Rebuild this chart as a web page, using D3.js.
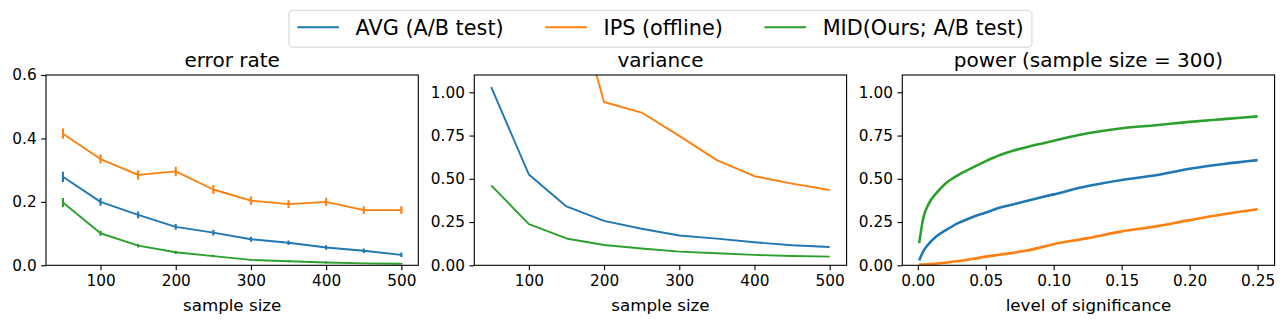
<!DOCTYPE html>
<html lang="en">
  <head>
    <meta charset="utf-8">
    <title>error rate / variance / power</title>
    <script src="https://d3js.org/d3.v7.min.js"></script>
    <style>
      body { margin: 0; background: #fff; }
      text { font-family: "DejaVu Sans", sans-serif; fill: #000; }
    </style>
  </head>

  <body>
    <div id="chart"></div>
    <script>
      // series names + colours (matplotlib tab10)
      var seriesNames = ["AVG (A/B test)", "IPS (offline)", "MID(Ours; A/B test)"];
      var seriesColors = ["#1f77b4", "#ff7f0e", "#2ca02c"];

      // panel 1: error rate vs sample size (with error bars)
      var sampleSizes = [50, 100, 150, 200, 250, 300, 350, 400, 450, 500];
      var errAvg = [0.279, 0.200, 0.159, 0.121, 0.103, 0.082, 0.071, 0.056, 0.046, 0.033];
      var errIps = [0.415, 0.335, 0.285, 0.296, 0.239, 0.204, 0.193, 0.200, 0.174, 0.174];
      var errMid = [0.198, 0.101, 0.062, 0.041, 0.029, 0.017, 0.013, 0.009, 0.006, 0.005];
      var errAvgBar = [0.016, 0.012, 0.011, 0.009, 0.009, 0.008, 0.007, 0.007, 0.007, 0.007];
      var errIpsBar = [0.016, 0.014, 0.015, 0.015, 0.014, 0.013, 0.012, 0.013, 0.012, 0.012];
      var errMidBar = [0.014, 0.008, 0.006, 0.005, 0.004, 0.003, 0.003, 0.003, 0.002, 0.002];

      // panel 2: variance vs sample size (IPS goes off the top for small n)
      var varAvg = [1.030, 0.525, 0.340, 0.257, 0.211, 0.172, 0.154, 0.133, 0.116, 0.106];
      var varIps = [5.60, 2.90, 1.72, 0.944, 0.883, 0.748, 0.608, 0.515, 0.472, 0.435];
      var varMid = [0.462, 0.238, 0.155, 0.117, 0.097, 0.079, 0.070, 0.060, 0.054, 0.050];

      // panel 3: power vs level of significance
      var alphas = [0.001, 0.004, 0.008, 0.014, 0.02, 0.03, 0.04, 0.05, 0.06, 0.07, 0.08,
                    0.10, 0.125, 0.15, 0.175, 0.2, 0.225, 0.25];
      var powAvg = [0.028, 0.080, 0.124, 0.170, 0.200, 0.245, 0.278, 0.305, 0.332, 0.352, 0.372,
                    0.410, 0.458, 0.493, 0.520, 0.558, 0.586, 0.608];
      var powIps = [0.004, 0.005, 0.007, 0.010, 0.015, 0.025, 0.036, 0.050, 0.061, 0.072, 0.085,
                    0.122, 0.157, 0.196, 0.225, 0.261, 0.295, 0.324];
      var powMid = [0.128, 0.272, 0.355, 0.420, 0.470, 0.523, 0.563, 0.602, 0.636, 0.662, 0.683,
                    0.720, 0.763, 0.792, 0.810, 0.829, 0.845, 0.861];

      var W = 1285, H = 326;
      var TOP = 75, BOTTOM = 265.3;
      var PW = 372.3;
      var TICK = 4.9;

      var svg = d3.select("#chart").append("svg")
        .attr("width", W)
        .attr("height", H);

      var panels = [
        {
          left: 46, title: "error rate", xlabel: "sample size",
          xDomain: [27.5, 522.5], yDomain: [0, 0.6],
          xTicks: [100, 200, 300, 400, 500], yTicks: [0, 0.2, 0.4, 0.6],
          xFmt: d3.format("d"), yFmt: d3.format(".1f"),
          x: sampleSizes, ys: [errAvg, errIps, errMid], bars: [errAvgBar, errIpsBar, errMidBar],
          lw: 1.9
        },
        {
          left: 474.3, title: "variance", xlabel: "sample size",
          xDomain: [27.5, 522.5], yDomain: [0, 1.1],
          xTicks: [100, 200, 300, 400, 500], yTicks: [0, 0.25, 0.5, 0.75, 1.0],
          xFmt: d3.format("d"), yFmt: d3.format(".2f"),
          x: sampleSizes, ys: [varAvg, varIps, varMid], bars: null,
          lw: 1.9
        },
        {
          left: 902.3, title: "power (sample size = 300)", xlabel: "level of significance",
          xDomain: [-0.0114, 0.2625], yDomain: [0, 1.1],
          xTicks: [0, 0.05, 0.1, 0.15, 0.2, 0.25], yTicks: [0, 0.25, 0.5, 0.75, 1.0],
          xFmt: d3.format(".2f"), yFmt: d3.format(".2f"),
          x: alphas, ys: [powAvg, powIps, powMid], bars: null,
          lw: 2.6
        }
      ];

      panels.forEach(function(p, pi) {
        var g = svg.append("g").attr("transform", `translate(${p.left},${TOP})`);
        var ih = BOTTOM - TOP;

        var xScale = d3.scaleLinear().domain(p.xDomain).range([0, PW]);
        var yScale = d3.scaleLinear().domain(p.yDomain).range([ih, 0]);

        g.append("clipPath").attr("id", "clip" + pi)
          .append("rect").attr("width", PW).attr("height", ih);

        var plot = g.append("g").attr("clip-path", `url(#clip${pi})`);

        var line = d3.line()
          .x(function(d, i) { return xScale(p.x[i]); })
          .y(function(d) { return yScale(d); })
          .curve(pi == 2 ? d3.curveMonotoneX : d3.curveLinear);

        p.ys.forEach(function(ys, si) {
          plot.append("path")
            .datum(ys)
            .attr("d", line)
            .attr("fill", "none")
            .attr("stroke", seriesColors[si])
            .attr("stroke-width", p.lw)
            .attr("stroke-linejoin", "round")
            .attr("stroke-linecap", "butt");

          if (p.bars) {
            plot.selectAll(null)
              .data(ys)
              .enter().append("line")
                .attr("x1", function(d, i) { return xScale(p.x[i]); })
                .attr("x2", function(d, i) { return xScale(p.x[i]); })
                .attr("y1", function(d, i) { return yScale(d - p.bars[si][i]); })
                .attr("y2", function(d, i) { return yScale(d + p.bars[si][i]); })
                .attr("stroke", seriesColors[si])
                .attr("stroke-width", 2.1);
          }
        });

        var xAxis = d3.axisBottom(xScale).tickValues(p.xTicks).tickFormat(p.xFmt)
          .tickSize(TICK).tickPadding(4.5);
        var yAxis = d3.axisLeft(yScale).tickValues(p.yTicks).tickFormat(p.yFmt)
          .tickSize(TICK).tickPadding(4.5);

        var gx = g.append("g").attr("transform", `translate(0,${ih})`).call(xAxis);
        var gy = g.append("g").call(yAxis);
        [gx, gy].forEach(function(a) {
          a.select(".domain").remove();
          a.selectAll(".tick line").attr("stroke", "#000").attr("stroke-width", 1.1);
          a.selectAll(".tick text").attr("font-size", 15.3).attr("font-family", "DejaVu Sans").attr("fill", "#000");
        });

        // frame
        g.append("rect")
          .attr("width", PW).attr("height", ih)
          .attr("fill", "none")
          .attr("stroke", "#000")
          .attr("stroke-width", 1.1);

        g.append("text")
          .attr("x", PW / 2).attr("y", -8.5)
          .attr("text-anchor", "middle")
          .attr("font-size", 20)
          .text(p.title);

        g.append("text")
          .attr("x", PW / 2).attr("y", ih + 45.5)
          .attr("text-anchor", "middle")
          .attr("font-size", 16.7)
          .text(p.xlabel);
      });

      // legend, centred over the middle panel, laid out like matplotlib (ncol=3)
      var FS = 20.8;
      var legend = svg.append("g");
      var box = legend.append("rect");
      var cx = 474.3 + PW / 2;
      var xpos = 0;
      var items = [];
      seriesNames.forEach(function(name, i) {
        var it = legend.append("g");
        it.append("line")
          .attr("x1", 0).attr("x2", 2 * FS)
          .attr("y1", 0).attr("y2", 0)
          .attr("stroke", seriesColors[i])
          .attr("stroke-width", 2);
        var t = it.append("text")
          .attr("x", 2.8 * FS).attr("y", 7.5)
          .attr("font-size", FS)
          .text(name);
        var w = 2.8 * FS + t.node().getComputedTextLength();
        items.push({ g: it, x: xpos });
        xpos += w + 2 * FS;
      });
      var totalW = xpos - 2 * FS;
      var startX = cx - totalW / 2;
      var lineY = 27.3;
      items.forEach(function(it) {
        it.g.attr("transform", `translate(${startX + it.x},${lineY})`);
      });
      box.attr("x", startX - 0.33 * FS - 1.5)
        .attr("y", 10.3)
        .attr("width", totalW + 0.66 * FS + 3)
        .attr("height", 36.8)
        .attr("rx", 4)
        .attr("fill", "#fff")
        .attr("stroke", "#d6d6d6")
        .attr("stroke-width", 1.1);
    </script>
  </body>
</html>
